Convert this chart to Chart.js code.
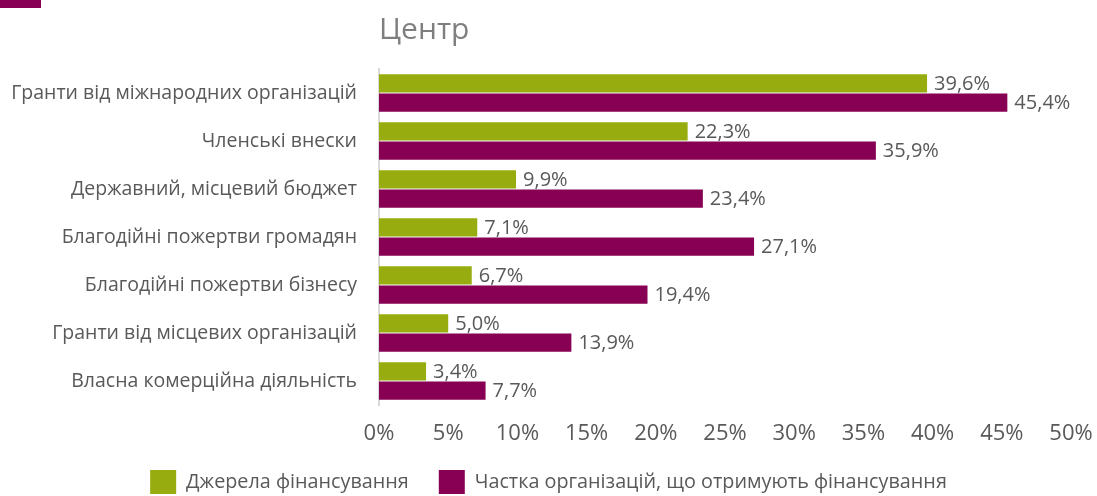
<!DOCTYPE html>
<html>
<head>
<meta charset="utf-8">
<script src="https://cdn.jsdelivr.net/npm/chart.js@4.4.1/dist/chart.umd.min.js"></script>
<style>
  html, body { margin: 0; padding: 0; background: #fff; }
  #wrap { position: relative; width: 1097px; height: 496px; }
  #corner { position: absolute; left: 0; top: 0; width: 41px; height: 8px; background: #880055; }
</style>
</head>
<body>
<div id="wrap">
  <div id="corner"></div>
  <canvas id="chart" width="1097" height="496"></canvas>
</div>
<script>
const categories = [
  'Гранти від міжнародних організацій',
  'Членські внески',
  'Державний, місцевий бюджет',
  'Благодійні пожертви громадян',
  'Благодійні пожертви бізнесу',
  'Гранти від місцевих організацій',
  'Власна комерційна діяльність'
];
const sources = [39.6, 22.3, 9.9, 7.1, 6.7, 5.0, 3.4];
const shareOrgs = [45.4, 35.9, 23.4, 27.1, 19.4, 13.9, 7.7];
const seriesNames = ['Джерела фінансування', 'Частка організацій, що отримують фінансування'];
const xTicks = [0, 5, 10, 15, 20, 25, 30, 35, 40, 45, 50];

const FONT = '"Open Sans", sans-serif';

// value labels to the right of each bar
const barLabels = {
  id: 'barLabels',
  afterDatasetsDraw(chart) {
    const ctx = chart.ctx;
    ctx.save();
    ctx.font = '20px ' + FONT;
    ctx.fillStyle = '#595959';
    ctx.textBaseline = 'middle';
    ctx.textAlign = 'left';
    chart.data.datasets.forEach((ds, i) => {
      chart.getDatasetMeta(i).data.forEach((bar, j) => {
        const txt = ds.data[j].toFixed(1).replace('.', ',') + '%';
        ctx.fillText(txt, bar.x + 7, bar.y + 1);
      });
    });
    ctx.restore();
  }
};

// title aligned with the plot area
const titlePlugin = {
  id: 'leftTitle',
  afterDraw(chart) {
    const ctx = chart.ctx;
    ctx.save();
    ctx.font = '30px ' + FONT;
    ctx.fillStyle = '#7f7f7f';
    ctx.textBaseline = 'middle';
    ctx.fillText('Центр', chart.chartArea.left, 30);
    ctx.restore();
  }
};

new Chart(document.getElementById('chart'), {
  type: 'bar',
  data: {
    labels: categories,
    datasets: [
      { label: seriesNames[0], data: sources, backgroundColor: '#97ac0e' },
      { label: seriesNames[1], data: shareOrgs, backgroundColor: '#870054' }
    ]
  },
  options: {
    indexAxis: 'y',
    responsive: false,
    animation: false,
    layout: { padding: { left: 0, right: 0, top: 69, bottom: -8 } },
    categoryPercentage: 0.8,
    barPercentage: 0.95,
    scales: {
      x: {
        min: 0, max: 50,
        afterBuildTicks(scale) { scale.ticks = xTicks.map(v => ({ value: v })); },
        grid: { display: false, drawTicks: false },
        border: { display: false },
        ticks: {
          padding: 16,
          color: '#595959',
          font: { family: FONT, size: 22 },
          callback: v => v + '%'
        },
        afterFit(scale) {
          scale.height = 35;
          scale.paddingLeft = 0;
          scale.paddingRight = 26;
        }
      },
      y: {
        grid: { display: false, drawTicks: false },
        border: { display: true, color: '#d9d9d9', width: 2 },
        ticks: {
          padding: 22,
          color: '#595959',
          font: { family: FONT, size: 19.5 }
        },
        afterFit(scale) { scale.width = 379; }
      }
    },
    plugins: {
      legend: {
        position: 'bottom',
        labels: {
          boxWidth: 26,
          boxHeight: 24,
          padding: 30,
          color: '#595959',
          font: { family: FONT, size: 19.8 }
        }
      },
      tooltip: { enabled: false }
    }
  },
  plugins: [barLabels, titlePlugin]
});
</script>
</body>
</html>
